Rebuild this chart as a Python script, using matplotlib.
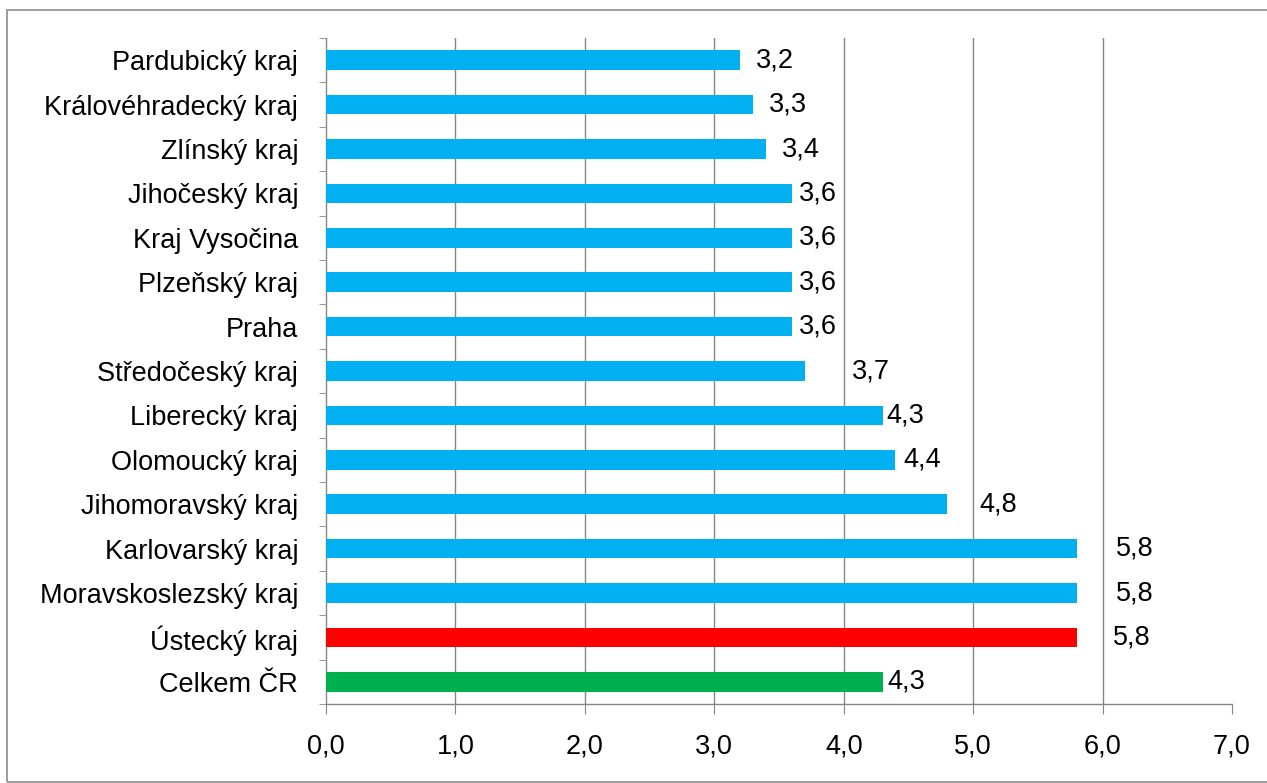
import matplotlib
matplotlib.use("Agg")
import matplotlib.pyplot as plt
from matplotlib.patches import Rectangle
from matplotlib.ticker import FixedLocator

categories = ["Pardubický kraj", "Královéhradecký kraj", "Zlínský kraj", "Jihočeský kraj",
              "Kraj Vysočina", "Plzeňský kraj", "Praha", "Středočeský kraj", "Liberecký kraj",
              "Olomoucký kraj", "Jihomoravský kraj", "Karlovarský kraj",
              "Moravskoslezský kraj", "Ústecký kraj", "Celkem ČR"]
values = [3.2, 3.3, 3.4, 3.6, 3.6, 3.6, 3.6, 3.7, 4.3, 4.4, 4.8, 5.8, 5.8, 5.8, 4.3]
x_ticks = [0, 1, 2, 3, 4, 5, 6, 7]

# styling
colors = ["#00B0F0"] * 13 + ["#FF0000", "#00B050"]
label_gap = [0.12, 0.12, 0.12, 0.05, 0.05, 0.05, 0.05, 0.36, 0.03, 0.06, 0.25, 0.3, 0.3, 0.28, 0.04]
FS = 19.5

plt.rcParams['font.family'] = ['Liberation Sans', 'DejaVu Sans']

fig = plt.figure(figsize=(12.67, 7.83), dpi=100)
W, H = 1267, 783
fig.patches.append(Rectangle((7 / W, 1 / H), 1.0, (772) / H, transform=fig.transFigure,
                             fill=False, edgecolor="#8c8c8c", linewidth=1.2))

ax = fig.add_axes([326 / W, 1 - 704 / H, (1232 - 326) / W, (704 - 38) / H])
n = len(categories)
ypos = list(range(n))
ax.barh(ypos, values, height=0.44, color=colors, zorder=3)
ax.set_ylim(n - 0.5, -0.5)
ax.set_xlim(0, 7)

for y, v, g in zip(ypos, values, label_gap):
    ax.text(v + g, y, f"{v:.1f}".replace(".", ","), va="center", ha="left",
            fontsize=FS, color="black", zorder=4)

ax.set_yticks(ypos)
ax.set_yticklabels(categories, fontsize=FS)
ax.yaxis.set_minor_locator(FixedLocator([i - 0.5 for i in range(n + 1)]))
ax.tick_params(axis="y", which="major", length=0, pad=20)
ax.tick_params(axis="y", which="minor", length=5, color="#868686", direction="out")

ax.set_xticks(x_ticks)
ax.set_xticklabels([f"{t:.1f}".replace(".", ",") for t in x_ticks], fontsize=FS)
ax.tick_params(axis="x", length=7, color="#868686", pad=14)

for t in x_ticks[1:-1]:
    ax.axvline(t, color="#868686", linewidth=1.0, zorder=1)

for s in ["top", "right"]:
    ax.spines[s].set_visible(False)
for s in ["left", "bottom"]:
    ax.spines[s].set_color("#868686")
    ax.spines[s].set_linewidth(1.0)

fig.savefig("out.png", dpi=100)
